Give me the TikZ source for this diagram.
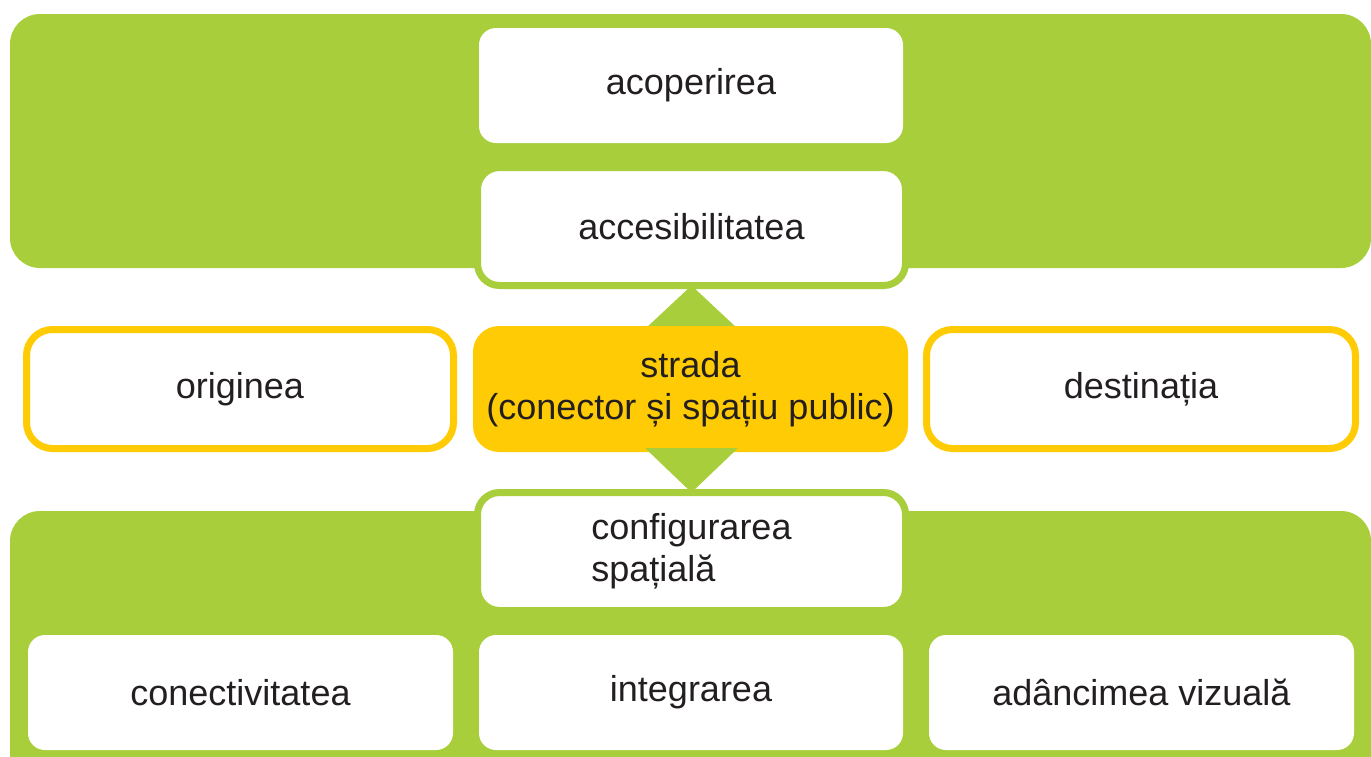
\documentclass[tikz,border=0pt]{standalone}
\usepackage{fontspec}
\setmainfont{Liberation Sans}
\definecolor{lgreen}{HTML}{A8CE3B}
\definecolor{myyellow}{HTML}{FFCB05}
\definecolor{txt}{HTML}{231F20}
\begin{document}
\begin{tikzpicture}[x=1pt,y=-1pt,
  lbl/.style={font=\fontsize{36}{42}\selectfont, text=txt, align=center, inner sep=0pt, outer sep=0pt},
  whitebox/.style={lbl, fill=white, rounded corners=17pt},
  greenbox/.style={lbl, fill=white, draw=lgreen, line width=7pt, rounded corners=22pt},
  yellowbox/.style={lbl, fill=white, draw=myyellow, line width=7pt, rounded corners=26pt},
  panel/.style={fill=lgreen, rounded corners=30pt},
  tri/.style={fill=lgreen}
]
\useasboundingbox (0,0) rectangle (1371,756);
\clip (0,0) rectangle (1371,756);
% top panel
\fill[panel] (10,14) rectangle (1371,268);
% top boxes
\node[whitebox, minimum width=424pt, minimum height=115pt] (acop) at (691,85.5) {acoperirea};
\node[greenbox, minimum width=428pt, minimum height=118pt] (acc) at (691.5,226.5) {accesibilitatea};
% side boxes
\node[yellowbox, minimum width=427pt, minimum height=119pt] (orig) at (240,389) {originea};
\node[yellowbox, minimum width=429pt, minimum height=119pt] (dest) at (1141,389) {destinația};
% bottom panel
\fill[panel] (10,511) rectangle (1371,800);
% triangles
\coordinate (upL) at (645,329);
\coordinate (upR) at (738,329);
\coordinate (dnL) at (645,448);
\coordinate (dnR) at (738,448);
\fill[tri] (acc.south) -- (upR) -- (upL) -- cycle;
\node[lbl, fill=myyellow, rounded corners=26pt, minimum width=435pt, minimum height=126pt] (str) at (690.5,389) {strada\\(conector și spațiu public)};
\node[greenbox, align=left, minimum width=428pt, minimum height=118pt] (conf) at (691.5,551.5) {configurarea\\spațială};
\fill[tri] (conf.north) -- (dnR) -- (dnL) -- cycle;
% bottom boxes
\node[whitebox, minimum width=425pt, minimum height=115pt] (conn) at (240.5,692.5) {conectivitatea};
\node[whitebox, minimum width=424pt, minimum height=115pt] (integ) at (691,692.5) {integrarea};
\node[whitebox, minimum width=425pt, minimum height=115pt] (adanc) at (1141.5,692.5) {adâncimea vizuală};
\end{tikzpicture}
\end{document}
